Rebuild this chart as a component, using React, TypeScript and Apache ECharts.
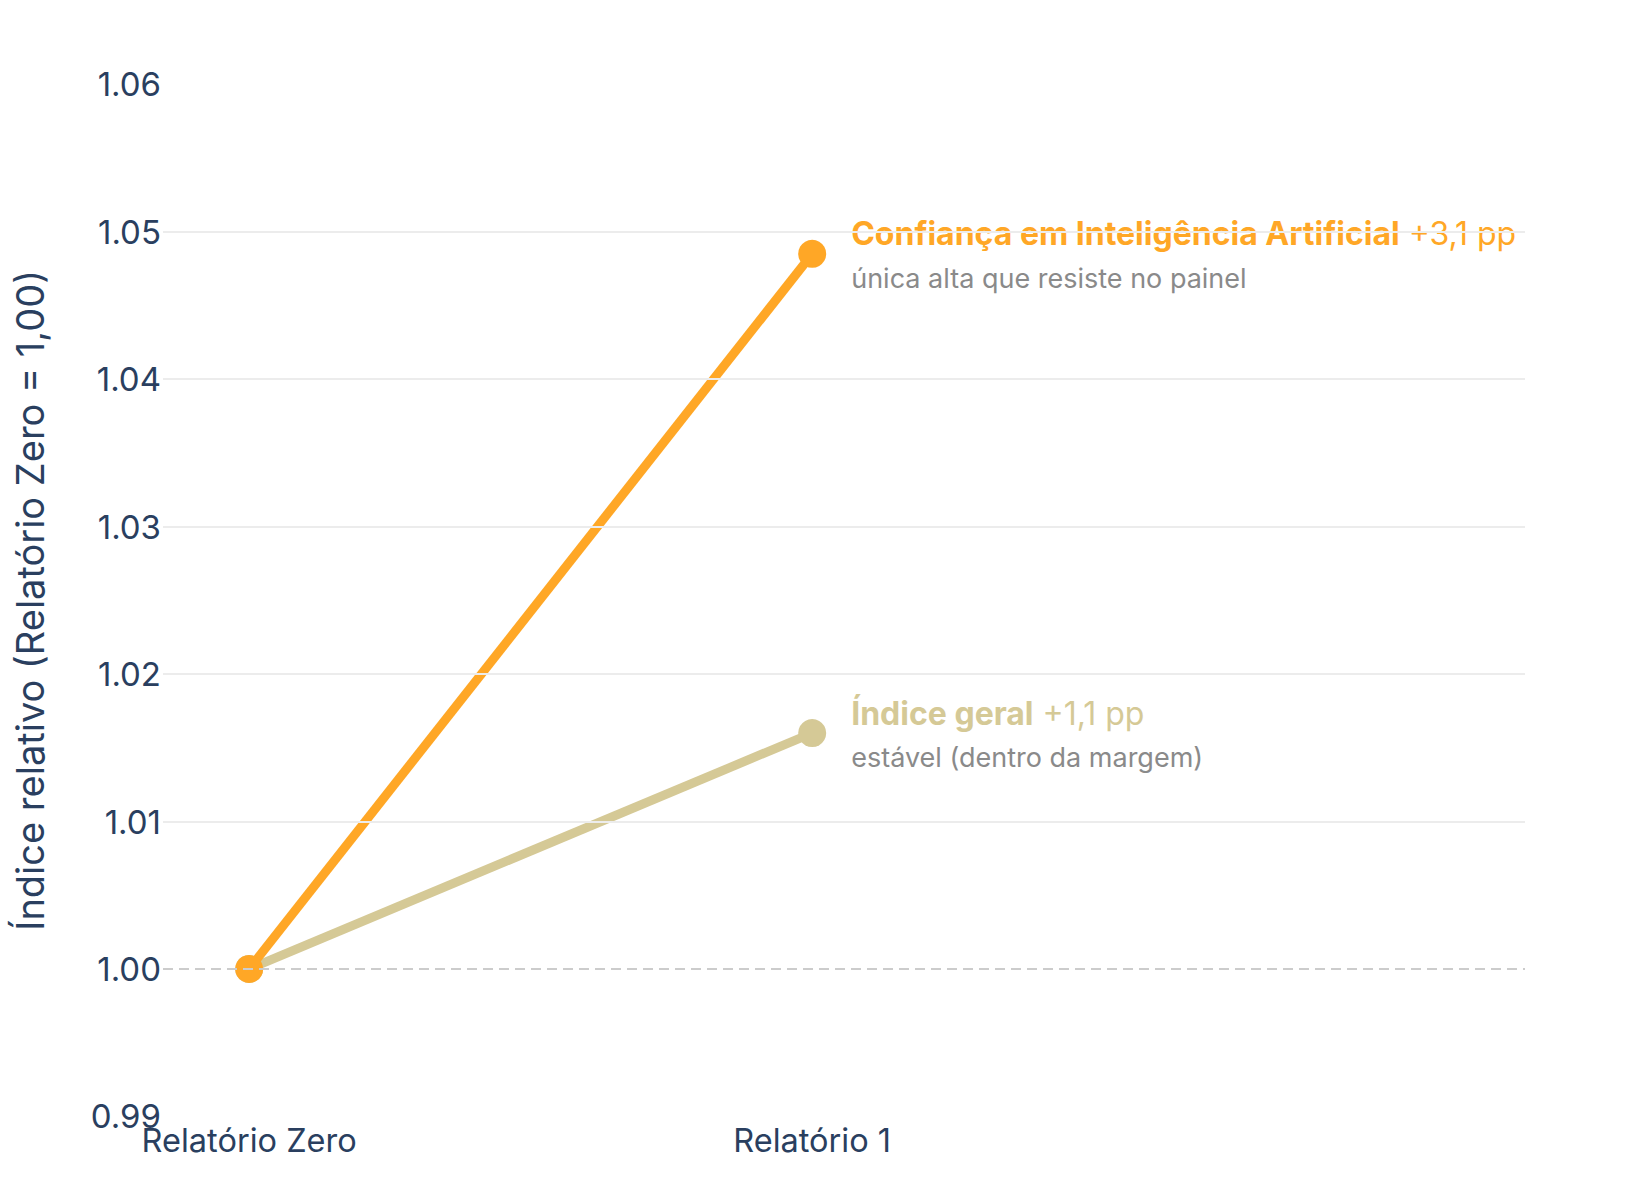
import React, { useEffect, useRef } from "react";
import * as echarts from "echarts";

const categories = ["Relatório Zero", "Relatório 1"];
const categoryPositions = [0, 1];
const iaValues = [1.0, 1.0485];
const geralValues = [1.0, 1.016];
const gridValues = [1.01, 1.02, 1.03, 1.04, 1.05];
const baselineValue = 1.0;

const iaTitle = "Confiança em Inteligência Artificial";
const iaDelta = "+3,1 pp";
const iaNote = "única alta que resiste no painel";
const geralTitle = "Índice geral";
const geralDelta = "+1,1 pp";
const geralNote = "estável (dentro da margem)";

const ORANGE = "#FFA726";
const BEIGE = "#D5C996";
const GRAY = "#8a8a8a";
const NAVY = "#2a3f5f";

function endLabel(color: string, title: string, delta: string, note: string) {
  return {
    show: true,
    position: "right",
    distance: 25,
    formatter: `{t|${title}}{p| ${delta}}\n{s|${note}}`,
    rich: {
      t: { fontFamily: "Inter", fontWeight: "bold", fontSize: 32, color, lineHeight: 49 },
      p: { fontFamily: "Inter", fontWeight: "normal", fontSize: 32, color, lineHeight: 49 },
      s: { fontFamily: "Inter", fontSize: 27, color: GRAY, lineHeight: 40 },
    },
  };
}

export default function App() {
  const ref = useRef<HTMLDivElement>(null);
  useEffect(() => {
    if (!ref.current) return;
    const chart = echarts.init(ref.current, null, { renderer: "svg" });
    chart.setOption({
      animation: false,
      backgroundColor: "#ffffff",
      grid: { left: 163, right: 114, top: 84.3, bottom: 83.6, containLabel: false },
      xAxis: {
        type: "value",
        min: -0.153,
        max: 2.266,
        axisLine: { show: false },
        axisTick: { show: false },
        splitLine: { show: false },
        axisLabel: {
          customValues: categoryPositions,
          formatter: (v: number) => categories[Math.round(v)] ?? "",
          fontFamily: "Inter",
          fontSize: 32.5,
          color: NAVY,
          margin: 8,
        },
      },
      yAxis: {
        type: "value",
        min: 0.99,
        max: 1.06,
        interval: 0.01,
        axisLine: { show: false },
        axisTick: { show: false },
        splitLine: { show: false },
        axisLabel: {
          formatter: (v: number) => v.toFixed(2),
          fontFamily: "Inter",
          fontSize: 33,
          color: NAVY,
          margin: 2,
        },
        name: "Índice relativo (Relatório Zero = 1,00)",
        nameLocation: "middle",
        nameGap: 114,
        nameTextStyle: { fontFamily: "Inter", fontSize: 38, color: NAVY },
      },
      series: [
        {
          type: "line",
          z: 1,
          data: [],
          markLine: {
            silent: true,
            symbol: "none",
            label: { show: false },
            data: [
              ...gridValues.map((v) => ({ yAxis: v, lineStyle: { color: "#ececec", width: 2, type: "solid" } })),
              { yAxis: baselineValue, lineStyle: { color: "#cccccc", width: 2, type: [10, 6] } },
            ],
          },
        },
        {
          type: "line",
          name: geralTitle,
          z: 3,
          data: categoryPositions.map((x, i) =>
            i === categoryPositions.length - 1
              ? { value: [x, geralValues[i]], label: endLabel(BEIGE, geralTitle, geralDelta, geralNote) }
              : { value: [x, geralValues[i]] }
          ),
          symbol: "circle",
          symbolSize: 28,
          itemStyle: { color: BEIGE },
          lineStyle: { color: BEIGE, width: 9 },
        },
        {
          type: "line",
          name: iaTitle,
          z: 4,
          data: categoryPositions.map((x, i) =>
            i === categoryPositions.length - 1
              ? { value: [x, iaValues[i]], label: endLabel(ORANGE, iaTitle, iaDelta, iaNote) }
              : { value: [x, iaValues[i]] }
          ),
          symbol: "circle",
          symbolSize: 28,
          itemStyle: { color: ORANGE },
          lineStyle: { color: ORANGE, width: 9 },
        },
      ],
    });
    return () => chart.dispose();
  }, []);
  return <div ref={ref} style={{ position: "fixed", left: 0, top: 0, width: 1639, height: 1200 }} />;
}
